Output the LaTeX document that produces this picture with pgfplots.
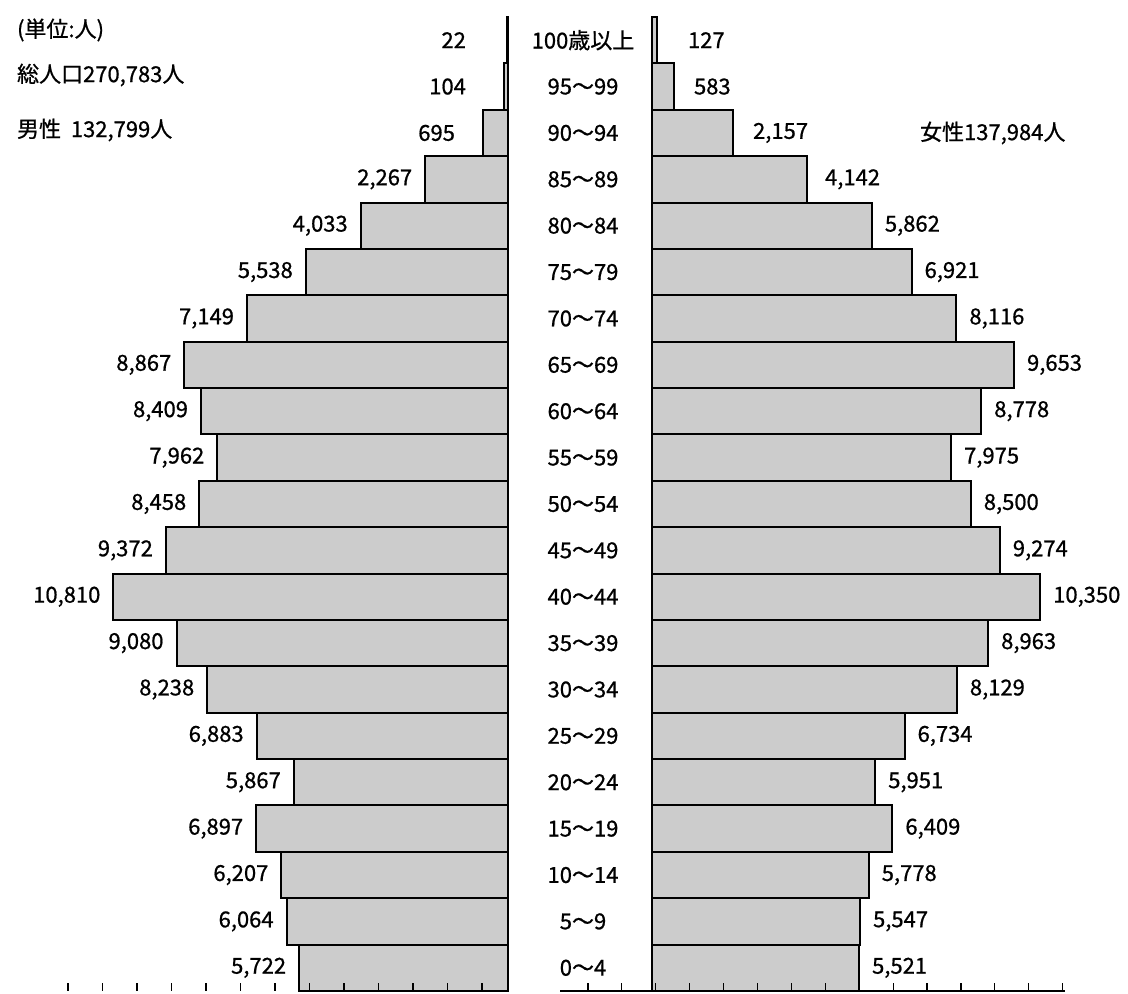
\documentclass[border=0pt]{standalone}
\usepackage{fontspec}
\setmainfont{Noto Sans CJK JP}[FakeBold=0.8]
\usepackage{pgfplots}
\usepackage{pgfplotstable}
\pgfplotsset{compat=1.18}

% cat: 1 = 0~4 ... 21 = 100歳以上 ; mlx/flx = where the value label sits
\pgfplotstableread{
cat m     f     mlx   flx   mlab   flab
1   5722  5521  5722  5521  5,722  5,521
2   6064  5547  6064  5547  6,064  5,547
3   6207  5778  6207  5778  6,207  5,778
4   6897  6409  6897  6409  6,897  6,409
5   5867  5951  5867  5951  5,867  5,951
6   6883  6734  6883  6734  6,883  6,734
7   8238  8129  8238  8129  8,238  8,129
8   9080  8963  9080  8963  9,080  8,963
9   10810 10350 10810 10350 10,810 10,350
10  9372  9274  9372  9274  9,372  9,274
11  8458  8500  8458  8500  8,458  8,500
12  7962  7975  7962  7975  7,962  7,975
13  8409  8778  8409  8778  8,409  8,778
14  8867  9653  8867  9653  8,867  9,653
15  7149  8116  7149  8116  7,149  8,116
16  5538  6921  5538  6921  5,538  6,921
17  4033  5862  4033  5862  4,033  5,862
18  2267  4142  2267  4267  2,267  4,142
19  695   2157  1096  2347  695    2,157
20  104   583   795   773   104    583
21  22    127   795   613   22     127
}\pyr

\definecolor{barfill}{gray}{0.80}

\begin{document}
\begin{tikzpicture}[font=\fontsize{11pt}{13pt}\selectfont]
\useasboundingbox (0,0) rectangle (564pt,497pt);
\pgfplotsset{
  pyr/.style={
    scale only axis, height=487pt, ymin=0.5, ymax=21.5, clip=false,
    axis on top,
    axis x line*=bottom, xtick={-100000},
    tick align=inside, minor tick length=4pt,
    minor tick style={line width=0.6pt, black},
    x axis line style={line width=0.6pt},
  },
  pbar/.style={xbar, bar width=23.19pt, bar shift=0pt, fill=barfill, draw=black, line width=1pt},
}
% male (left)
\begin{axis}[pyr, at={(27.5pt,1.5pt)}, anchor=south west, width=239.5pt,
  x dir=reverse, xmin=-712, xmax=12411,
  minor xtick={712,1657,...,12052},
  axis y line=none, ytick=\empty,
  x axis line style={draw=none}]
\addplot[pbar] table[x=m, y=cat] {\pyr};
\addplot[only marks, mark=none, nodes near coords, point meta=explicit symbolic,
  nodes near coords style={anchor=east, xshift=-3pt, text=black}]
  table[x=mlx, y=cat, meta=mlab] {\pyr};
\end{axis}
% female (right)
\begin{axis}[pyr, at={(280pt,1.5pt)}, anchor=south west, width=252.5pt,
  xmin=-2453, xmax=11013,
  minor xtick={-1707,-803,...,10949},
  axis y line*=left, y axis line style={draw=none},
  ytick={1,...,21}, y tick style={draw=none},
  yticklabels={0～4,5～9,10～14,15～19,20～24,25～29,30～34,35～39,40～44,45～49,50～54,55～59,60～64,65～69,70～74,75～79,80～84,85～89,90～94,95～99,100歳以上},
  yticklabel style={anchor=center, xshift=11.5pt}]
\addplot[pbar] table[x=f, y=cat] {\pyr};
\addplot[only marks, mark=none, nodes near coords, point meta=explicit symbolic,
  nodes near coords style={anchor=west, xshift=3pt, text=black}]
  table[x=flx, y=cat, meta=flab] {\pyr};
\end{axis}
\node[anchor=west] at (5pt,482pt) {(単位:人)};
\node[anchor=west] at (5pt,459.5pt) {総人口270,783人};
\node[anchor=west] at (5pt,432pt) {男性\ \ 132,799人};
\node[anchor=west] at (456.5pt,430.5pt) {女性137,984人};
\end{tikzpicture}
\end{document}
